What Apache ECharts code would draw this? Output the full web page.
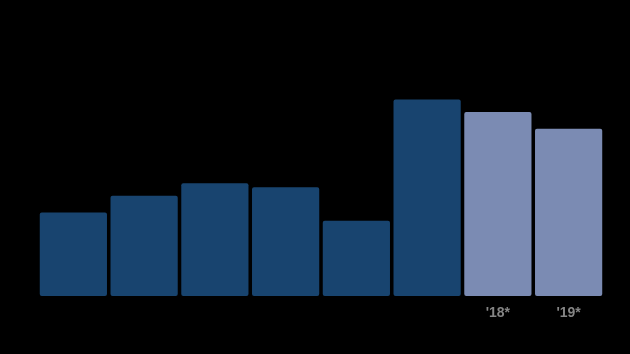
<!DOCTYPE html>
<html>
<head>
<meta charset="utf-8">
<script src="https://cdn.jsdelivr.net/npm/echarts@6/dist/echarts.min.js"></script>
<style>
  html,body{margin:0;padding:0;background:#000;}
  #chart{width:630px;height:354px;}
</style>
</head>
<body>
<div id="chart"></div>
<script>
// data
var years=["'12","'13","'14","'15","'16","'17","'18*","'19*"];
var growth=[2.0,2.4,2.7,2.6,1.8,4.7,4.4,4.0];
var projected=[false,false,false,false,false,false,true,true];

var dark="#18446f",light="#7b8bb3";

var chart=echarts.init(document.getElementById("chart"));
chart.setOption({
    backgroundColor:"#000",
    animation:false,
    title:[{
        text:"Weathering the war? Projected growth in global trade",
        left:0,top:6,
        textStyle:{color:"#000",fontFamily:"Liberation Sans",fontWeight:"bold",fontSize:20}
    },{
        text:"Data for merchandise trade. *Projection",
        left:0,top:331,
        textStyle:{color:"#000",fontFamily:"Liberation Sans",fontStyle:"italic",fontWeight:"normal",fontSize:13}
    },{
        text:"Source: WTO",
        right:0,top:331,
        textStyle:{color:"#000",fontFamily:"Liberation Sans",fontWeight:"normal",fontSize:13}
    }],
    grid:{left:38,right:26,top:87,bottom:58},
    xAxis:{
        type:"category",
        data:years,
        axisLine:{show:false},
        axisTick:{show:true,alignWithLabel:true,inside:true,length:3,lineStyle:{color:"#000"}},
        axisLabel:{
            margin:10,fontFamily:"Liberation Sans",fontSize:14,fontWeight:"bold",
            color:function(v,i){return projected[i]?"#858585":"#000";}
        }
    },
    yAxis:{
        type:"value",min:0,max:5,interval:1,
        axisLabel:{show:false},
        axisLine:{show:false},axisTick:{show:false},
        splitLine:{lineStyle:{color:"#000",width:1}}
    },
    series:[{
        type:"bar",
        barCategoryGap:"5%",
        data:growth.map(function(v,i){
            return {value:v,itemStyle:{color:projected[i]?light:dark}};
        }),
        itemStyle:{borderRadius:2}
    }]
});
</script>
</body>
</html>
